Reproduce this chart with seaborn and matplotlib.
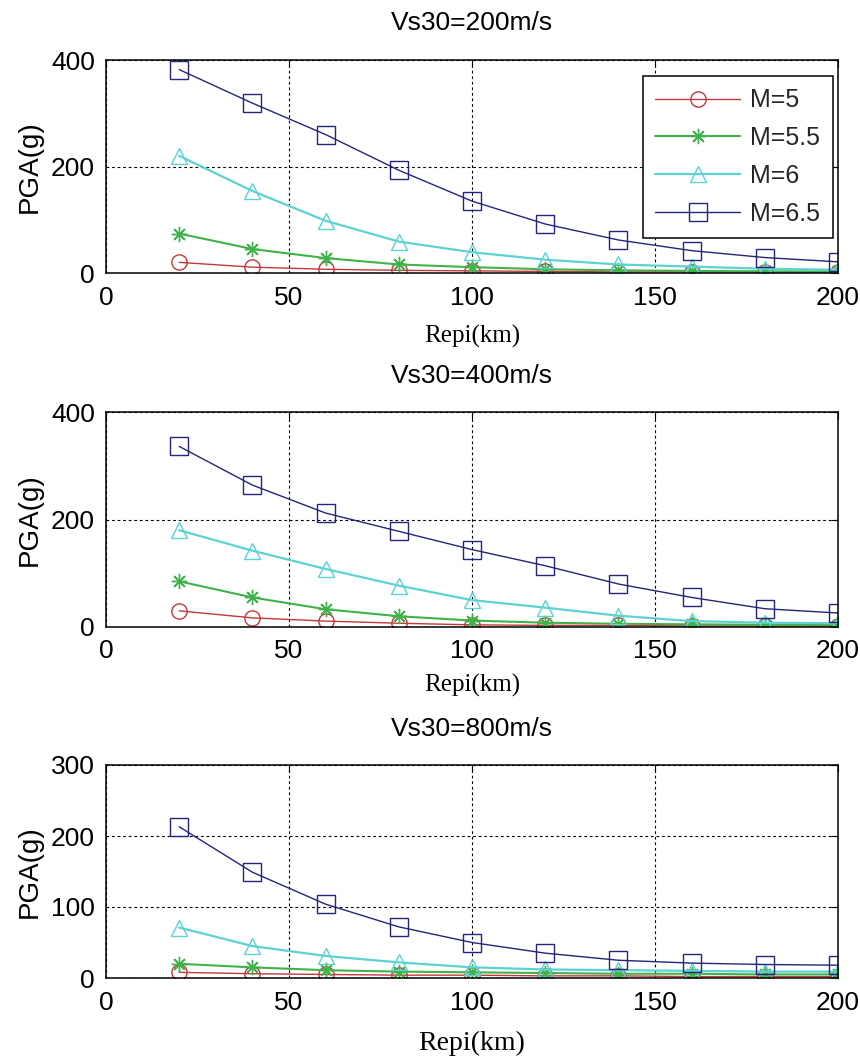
import matplotlib
matplotlib.use("Agg")
import matplotlib.pyplot as plt
import seaborn as sns

# Epicentral distance (km)
repi = [20, 40, 60, 80, 100, 120, 140, 160, 180, 200]

# PGA attenuation, Vs30 = 200 m/s
pga200_m5 = [20, 11, 7, 5, 4, 3, 2, 2, 2, 1]
pga200_m55 = [74, 45, 28, 16, 11, 7, 5, 4, 3, 3]
pga200_m6 = [220, 154, 98, 59, 39, 25, 16, 12, 8, 6]
pga200_m65 = [382, 319, 260, 193, 135, 92, 62, 42, 29, 21]

# PGA attenuation, Vs30 = 400 m/s
pga400_m5 = [30, 17, 11, 7, 4, 3, 3, 2, 2, 2]
pga400_m55 = [85, 55, 33, 20, 12, 8, 6, 5, 4, 4]
pga400_m6 = [180, 142, 108, 77, 50, 36, 21, 11, 8, 7]
pga400_m65 = [336, 264, 212, 178, 144, 114, 80, 55, 34, 26]

# PGA attenuation, Vs30 = 800 m/s
pga800_m5 = [8, 6, 5, 4, 4, 3, 3, 2, 2, 2]
pga800_m55 = [20, 15, 11, 9, 8, 7, 6, 6, 5, 5]
pga800_m6 = [71, 45, 31, 22, 15, 12, 11, 10, 9, 9]
pga800_m65 = [213, 149, 104, 72, 50, 35, 25, 21, 19, 18]

magnitudes = ["M=5", "M=5.5", "M=6", "M=6.5"]
titles = ["Vs30=200m/s", "Vs30=400m/s", "Vs30=800m/s"]
panels = [
    [pga200_m5, pga200_m55, pga200_m6, pga200_m65],
    [pga400_m5, pga400_m55, pga400_m6, pga400_m65],
    [pga800_m5, pga800_m55, pga800_m6, pga800_m65],
]
y_max = [400, 400, 300]
y_ticks = [[0, 200, 400], [0, 200, 400], [0, 100, 200, 300]]

sns.set_style("white")
plt.rcParams["font.family"] = ["Liberation Sans", "DejaVu Sans"]

colors = ["#c0393b", "#3fb34a", "#5cd2d2", "#24247c"]
markers = ["o", (8, 2, 0), "^", "s"]
msizes = [11, 11, 12, 13]
lwidths = [1.0, 1.5, 1.6, 1.0]

fig = plt.figure(figsize=(8.6, 10.61), dpi=100)
W, H = 860, 1061
boxes = [(60, 273), (412, 627), (765, 978)]
left, right = 106, 838
title_y = [1.174, 1.167, 1.169]
xlabel_y = [-0.296, -0.274, -0.305]
xlabel_size = [18, 18, 20]

for i, (top, bottom) in enumerate(boxes):
    ax = fig.add_axes([left / W, 1 - bottom / H, (right - left) / W, (bottom - top) / H])
    for j, vals in enumerate(panels[i]):
        sns.lineplot(
            x=repi, y=vals, ax=ax, color=colors[j], marker=markers[j],
            markersize=msizes[j], markerfacecolor="none",
            markeredgecolor=colors[j], markeredgewidth=1.0,
            linewidth=lwidths[j],
            label=magnitudes[j] if i == 0 else None,
            legend=False,
        )
    ax.set_xlim(0, 200)
    ax.set_ylim(0, y_max[i])
    ax.set_xticks([0, 50, 100, 150, 200])
    ax.set_yticks(y_ticks[i])
    ax.grid(True, color="black", linestyle=(0, (2.5, 2.5)), linewidth=0.8)
    ax.set_axisbelow(True)
    for s in ax.spines.values():
        s.set_visible(True)
        s.set_color("black")
        s.set_linewidth(1.1)
    ax.tick_params(axis="both", direction="in", length=5, width=0.8,
                   top=True, right=True, pad=9, colors="black", labelsize=19)
    ax.tick_params(axis="y", pad=8)

    ttl = ax.set_title(titles[i], fontsize=19, color="black", y=title_y[i], pad=0)
    ttl.set_va("center")
    ax.set_ylabel("PGA(g)", fontsize=20, labelpad=6, color="black")
    ax.set_xlabel("Repi(km)", fontsize=xlabel_size[i], family="Liberation Serif",
                  color="black")
    ax.xaxis.set_label_coords(0.5, xlabel_y[i])
    ax.xaxis.label.set_va("center")

    if i == 0:
        leg = ax.legend(loc="upper right", bbox_to_anchor=(0.993, 0.925),
                        fontsize=18, frameon=True, fancybox=False,
                        edgecolor="black", framealpha=1, handlelength=3.4,
                        handletextpad=0.4, labelspacing=0.55, borderpad=0.5,
                        numpoints=1, borderaxespad=0)
        leg.get_frame().set_linewidth(1.1)

fig.savefig("out.png", dpi=100, facecolor="white")
